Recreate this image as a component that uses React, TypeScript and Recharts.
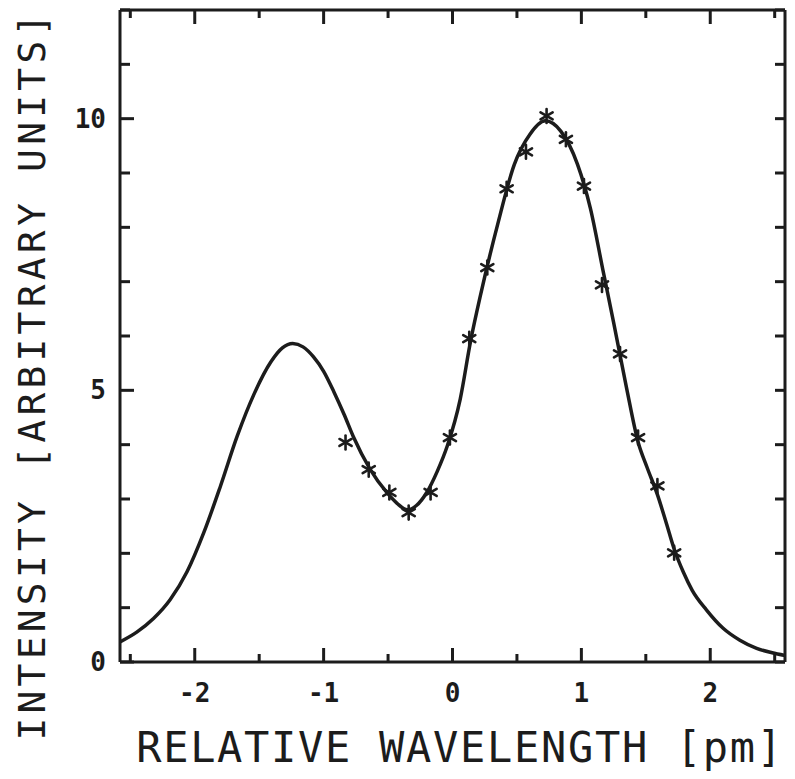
import React from "react";
import { ComposedChart, Line, Scatter, XAxis, YAxis } from "recharts";

// fitted profile
const curveX = [
  -2.58, -2.45, -2.32, -2.19, -2.06, -1.93, -1.8, -1.67, -1.54, -1.41, -1.32, -1.24, -1.16, -1.08, -1.0,
  -0.92, -0.84, -0.77, -0.64, -0.51, -0.43, -0.35, -0.28, -0.2, -0.12, -0.04, 0.06, 0.14, 0.22, 0.35,
  0.48, 0.6, 0.72, 0.84, 0.97, 1.07, 1.17, 1.25, 1.35, 1.44, 1.51, 1.59, 1.66, 1.72, 1.79, 1.86, 1.97,
  2.1, 2.23, 2.36, 2.48, 2.58,
];
const curveY = [
  0.37, 0.55, 0.8, 1.15, 1.66, 2.38, 3.24, 4.16, 4.93, 5.52, 5.78, 5.86, 5.8, 5.62, 5.35,
  4.97, 4.55, 4.15, 3.55, 3.12, 2.92, 2.8, 2.88, 3.12, 3.5, 3.98, 4.84, 5.9, 6.78, 8.05,
  9.16, 9.71, 9.96, 9.77, 9.16, 8.35, 7.18, 6.25, 5.05, 4.05, 3.58, 3.08, 2.55, 2.08, 1.66, 1.32, 0.96,
  0.62, 0.4, 0.25, 0.17, 0.12,
];

// measured points (asterisks)
const pointX = [-0.83, -0.65, -0.49, -0.34, -0.17, -0.02, 0.13, 0.27, 0.42, 0.57, 0.73, 0.88, 1.02, 1.16, 1.3, 1.44, 1.59, 1.72];
const pointY = [4.04, 3.54, 3.12, 2.75, 3.12, 4.13, 5.95, 7.26, 8.71, 9.39, 10.05, 9.62, 8.76, 6.94, 5.67, 4.13, 3.24, 2.01];

const xTicks = [-2.5, -2, -1.5, -1, -0.5, 0, 0.5, 1, 1.5, 2, 2.5];
const xLabels = [-2, -1, 0, 1, 2];
const yTicks = [0, 1, 2, 3, 4, 5, 6, 7, 8, 9, 10, 11, 12];
const yLabels = [0, 5, 10];

const curveData = curveX.map((x, i) => ({ x, y: curveY[i] }));
const pointData = pointX.map((x, i) => ({ x, y: pointY[i] }));

const INK = "#1c1c1c";
const MONO = "'DejaVu Sans Mono', monospace";

const Asterisk = (props: any) => {
  const { cx, cy } = props;
  const r = 7;
  const dx = r * Math.cos(Math.PI / 6);
  const dy = r * Math.sin(Math.PI / 6);
  return (
    <g stroke={INK} strokeWidth={2.6} strokeLinecap="round">
      <line x1={cx} y1={cy - r} x2={cx} y2={cy + r} />
      <line x1={cx - dx} y1={cy - dy} x2={cx + dx} y2={cy + dy} />
      <line x1={cx - dx} y1={cy + dy} x2={cx + dx} y2={cy - dy} />
    </g>
  );
};

const BottomTick = (props: any) => {
  const { x, y, payload } = props;
  const v = payload.value;
  const major = Number.isInteger(v);
  return (
    <g>
      <line x1={x} y1={y} x2={x} y2={y - (major ? 14 : 8)} stroke={INK} strokeWidth={3} />
      {xLabels.includes(v) && (
        <text x={x} y={y + 40} textAnchor="middle" fontFamily={MONO} fontWeight="bold" fontSize={26} fill={INK}>
          {v < 0 ? "-" + Math.abs(v) : String(v)}
        </text>
      )}
    </g>
  );
};

const TopTick = (props: any) => {
  const { x, y, payload } = props;
  const major = Number.isInteger(payload.value);
  return <line x1={x} y1={y} x2={x} y2={y + (major ? 14 : 8)} stroke={INK} strokeWidth={3} />;
};

const LeftTick = (props: any) => {
  const { x, y, payload } = props;
  const v = payload.value;
  return (
    <g>
      <line x1={x} y1={y} x2={x + (yLabels.includes(v) ? 14 : 10)} y2={y} stroke={INK} strokeWidth={3} />
      {yLabels.includes(v) && (
        <text x={x - 14} y={y + 9} textAnchor="end" fontFamily={MONO} fontWeight="bold" fontSize={26} fill={INK}>
          {v}
        </text>
      )}
    </g>
  );
};

const RightTick = (props: any) => {
  const { x, y } = props;
  return <line x1={x} y1={y} x2={x - 10} y2={y} stroke={INK} strokeWidth={3} />;
};

export default function App() {
  return (
    <div style={{ width: 787, height: 771, background: "#fff" }}>
      <ComposedChart width={787} height={771} margin={{ top: 1, right: 9, left: 0, bottom: 0 }}>
        <XAxis
          xAxisId="b"
          type="number"
          dataKey="x"
          domain={[-2.58, 2.58]}
          allowDataOverflow
          ticks={xTicks}
          interval={0}
          height={117}
          tickSize={0}
          tickMargin={0}
          tickLine={false}
          tick={<BottomTick />}
          axisLine={{ stroke: INK, strokeWidth: 3 }}
        />
        <XAxis
          xAxisId="t"
          orientation="top"
          type="number"
          dataKey="x"
          domain={[-2.58, 2.58]}
          allowDataOverflow
          ticks={xTicks}
          interval={0}
          height={1}
          tickSize={0}
          tickMargin={0}
          tickLine={false}
          tick={<TopTick />}
          axisLine={{ stroke: INK, strokeWidth: 3 }}
        />
        <YAxis
          yAxisId="l"
          type="number"
          domain={[0, 12]}
          allowDataOverflow
          ticks={yTicks}
          interval={0}
          width={112}
          tickSize={0}
          tickMargin={0}
          tickLine={false}
          tick={<LeftTick />}
          axisLine={{ stroke: INK, strokeWidth: 3 }}
        />
        <YAxis
          yAxisId="r"
          orientation="right"
          type="number"
          domain={[0, 12]}
          allowDataOverflow
          ticks={yTicks}
          interval={0}
          width={1}
          tickSize={0}
          tickMargin={0}
          tickLine={false}
          tick={<RightTick />}
          axisLine={{ stroke: INK, strokeWidth: 3 }}
        />
        <Line
          xAxisId="b"
          yAxisId="l"
          data={curveData}
          dataKey="y"
          type="monotone"
          stroke={INK}
          strokeWidth={3.5}
          dot={false}
          activeDot={false}
          isAnimationActive={false}
        />
        <Scatter
          xAxisId="b"
          yAxisId="l"
          data={pointData}
          dataKey="y"
          shape={<Asterisk />}
          isAnimationActive={false}
        />
        <text x={452} y={754} textAnchor="middle" fontFamily={MONO} fontSize={42} letterSpacing={1.7} fill={INK}>
          RELATIVE WAVELENGTH [pm]
        </text>
        <text
          x={37}
          y={367}
          transform="rotate(-90 37 367)"
          textAnchor="middle"
          fontFamily={MONO}
          fontSize={38}
          letterSpacing={4.2}
          fill={INK}
        >
          INTENSITY [ARBITRARY UNITS]
        </text>
      </ComposedChart>
    </div>
  );
}
